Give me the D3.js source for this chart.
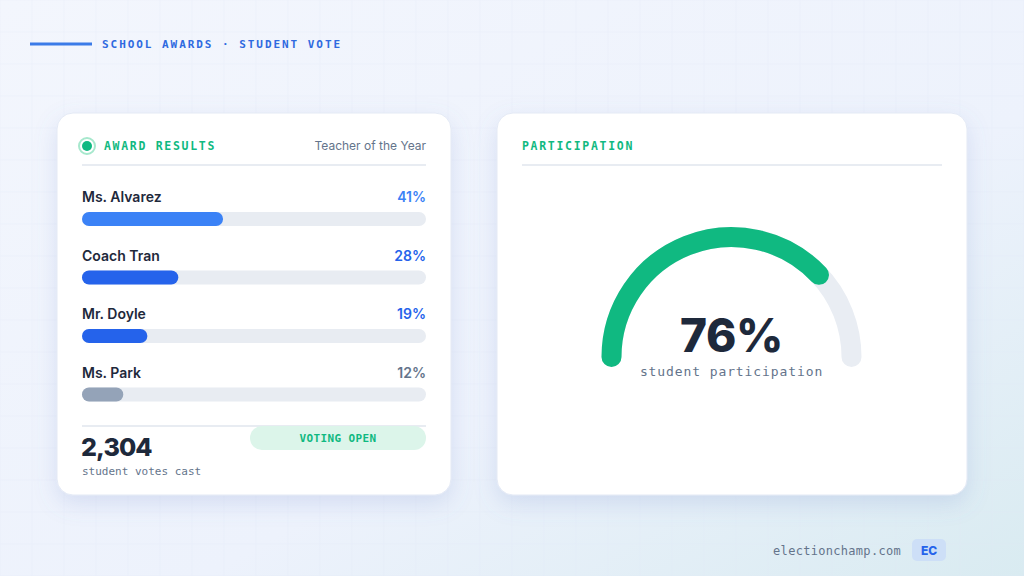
<!DOCTYPE html>
<html><head><meta charset="utf-8">
<script src="https://cdn.jsdelivr.net/npm/d3@7"></script>
<style>
html,body{margin:0;padding:0;width:1024px;height:576px;overflow:hidden;}
svg{display:block;}
</style></head>
<body><svg id="c" width="1024" height="576"></svg>
<script>
const candidates = ["Ms. Alvarez", "Coach Tran", "Mr. Doyle", "Ms. Park"];
const shares = [41, 28, 19, 12];
const barColors = ["#3b82f6", "#2563eb", "#2563eb", "#94a3b8"];
const pctColors = ["#3b82f6", "#2563eb", "#2563eb", "#64748b"];
const participation = [76];
const votesCast = ["2,304"];
const titles = ["SCHOOL AWARDS · STUDENT VOTE", "AWARD RESULTS", "Teacher of the Year", "PARTICIPATION"];

const svg = d3.select("#c");
const mono = "'DejaVu Sans Mono', 'Liberation Mono', monospace";
const sans = "Inter, 'Noto Sans', sans-serif";
const defs = svg.append("defs");

const bg = defs.append("linearGradient").attr("id","bg").attr("x1","0").attr("y1","0").attr("x2","1").attr("y2","1");
bg.append("stop").attr("offset","0").attr("stop-color","#f3f6fd");
bg.append("stop").attr("offset","0.6").attr("stop-color","#edf2fc");
bg.append("stop").attr("offset","1").attr("stop-color","#d9ebf1");
svg.append("rect").attr("width",1024).attr("height",576).attr("fill","url(#bg)");

// faint grid
const grid = svg.append("g").attr("stroke","#dfe6f5").attr("stroke-width",0.6).attr("opacity",0.45);
for (let x = 0; x <= 1024; x += 32) grid.append("line").attr("x1",x).attr("x2",x).attr("y1",0).attr("y2",576);
for (let y = 0; y <= 576; y += 32) grid.append("line").attr("y1",y).attr("y2",y).attr("x1",0).attr("x2",1024);

const sh = defs.append("filter").attr("id","sh").attr("x","-20%").attr("y","-20%").attr("width","140%").attr("height","150%");
sh.append("feDropShadow").attr("dx",0).attr("dy",8).attr("stdDeviation",11).attr("flood-color","#6d83c9").attr("flood-opacity",0.2);

// header
svg.append("line").attr("x1",30).attr("x2",92).attr("y1",44).attr("y2",44).attr("stroke","#3b7be8").attr("stroke-width",3);
svg.append("text").attr("x",102).attr("y",48).text(titles[0])
  .attr("font-family",mono).attr("font-size",11).attr("font-weight",700).attr("letter-spacing",1.95).attr("fill","#2f6ae0");

// cards
const cards = [{x:57,y:113,w:394,h:382},{x:497,y:113,w:470,h:382}];
svg.selectAll("rect.card").data(cards).join("rect").attr("class","card")
  .attr("x",d=>d.x).attr("y",d=>d.y).attr("width",d=>d.w).attr("height",d=>d.h)
  .attr("rx",16).attr("fill","#fff").attr("stroke","#e3e9f5").attr("stroke-width",1).attr("filter","url(#sh)");

// left card header
const L = svg.append("g");
L.append("circle").attr("cx",87).attr("cy",146).attr("r",8).attr("fill","#fff").attr("stroke","#a7e8cd").attr("stroke-width",2);
L.append("circle").attr("cx",87).attr("cy",146).attr("r",5).attr("fill","#10b981");
L.append("text").attr("x",104).attr("y",150).text(titles[1])
  .attr("font-family",mono).attr("font-size",11.5).attr("font-weight",700).attr("letter-spacing",1.7).attr("fill","#10b981");
L.append("text").attr("x",426).attr("y",150).attr("text-anchor","end").text(titles[2])
  .attr("font-family",sans).attr("font-size",12).attr("fill","#64748b");
L.append("rect").attr("x",82).attr("y",164).attr("width",344).attr("height",2).attr("fill","#e8ecf2");

const x = d3.scaleLinear().domain([0,100]).range([0,344]);
const y = d3.scaleBand().domain(candidates).range([180,414]).padding(0);
const rows = L.selectAll("g.row").data(candidates).join("g").attr("class","row")
  .attr("transform",d=>`translate(82,${y(d)})`);
rows.append("text").attr("x",0).attr("y",22).text(d=>d)
  .attr("font-family",sans).attr("font-size",14).attr("font-weight",600).attr("fill","#1e293b");
rows.append("text").attr("x",344).attr("y",22).attr("text-anchor","end").text((d,i)=>shares[i]+"%")
  .attr("font-family",sans).attr("font-size",14).attr("font-weight",600).attr("fill",(d,i)=>pctColors[i]);
rows.append("rect").attr("x",0).attr("y",32).attr("width",x(100)).attr("height",14).attr("rx",7).attr("fill","#e8ecf2");
rows.append("rect").attr("x",0).attr("y",32).attr("width",(d,i)=>x(shares[i])).attr("height",14).attr("rx",7).attr("fill",(d,i)=>barColors[i]);

// footer of left card
L.append("rect").attr("x",82).attr("y",425).attr("width",344).attr("height",2).attr("fill","#e8ecf2");
L.append("text").attr("x",81).attr("y",456).text(votesCast[0])
  .attr("font-family",sans).attr("font-size",25).attr("font-weight",800).attr("letter-spacing",-0.9).attr("fill","#1e293b");
L.append("text").attr("x",82).attr("y",475).text("student votes cast")
  .attr("font-family",mono).attr("font-size",11).attr("fill","#64748b");
L.append("rect").attr("x",250).attr("y",426).attr("width",176).attr("height",24).attr("rx",12).attr("fill","#dcf5ea");
L.append("text").attr("x",338).attr("y",442).attr("text-anchor","middle").text("VOTING OPEN")
  .attr("font-family",mono).attr("font-size",11).attr("font-weight",700).attr("letter-spacing",0.4).attr("fill","#10b981");

// right card
const R = svg.append("g");
R.append("text").attr("x",522).attr("y",150).text(titles[3])
  .attr("font-family",mono).attr("font-size",11.5).attr("font-weight",700).attr("letter-spacing",1.7).attr("fill","#10b981");
R.append("rect").attr("x",522).attr("y",164).attr("width",420).attr("height",2).attr("fill","#e8ecf2");

const cx = 731.5, cy = 357, r = 120;
const ang = d3.scaleLinear().domain([0,100]).range([Math.PI, 2*Math.PI]);
function arcPath(v0, v1) {
  const p = d3.path();
  p.arc(0, 0, r, ang(v0), ang(v1), false);
  return p.toString();
}
const G = R.append("g").attr("transform",`translate(${cx},${cy})`);
G.append("path").attr("d",arcPath(0,100)).attr("fill","none")
  .attr("stroke","#e9edf3").attr("stroke-width",20).attr("stroke-linecap","round");
G.append("path").attr("d",arcPath(0,participation[0])).attr("fill","none")
  .attr("stroke","#10b981").attr("stroke-width",20).attr("stroke-linecap","round");
G.append("text").attr("x",0).attr("y",-5).attr("text-anchor","middle").text(participation[0]+"%")
  .attr("font-family",sans).attr("font-size",46).attr("font-weight",800).attr("letter-spacing",-0.3).attr("fill","#1e293b");
G.append("text").attr("x",0).attr("y",19).attr("text-anchor","middle").text("student participation")
  .attr("font-family",mono).attr("font-size",13).attr("letter-spacing",0.9).attr("fill","#64748b");

// brand
svg.append("text").attr("x",901).attr("y",555).attr("text-anchor","end").text("electionchamp.com")
  .attr("font-family",mono).attr("font-size",12).attr("letter-spacing",0.3).attr("fill","#64748b");
svg.append("rect").attr("x",912).attr("y",539).attr("width",34).attr("height",22).attr("rx",5).attr("fill","#cddff7");
svg.append("text").attr("x",929).attr("y",555).attr("text-anchor","middle").text("EC")
  .attr("font-family",sans).attr("font-size",12).attr("font-weight",800).attr("fill","#2563eb");
</script></body></html>
